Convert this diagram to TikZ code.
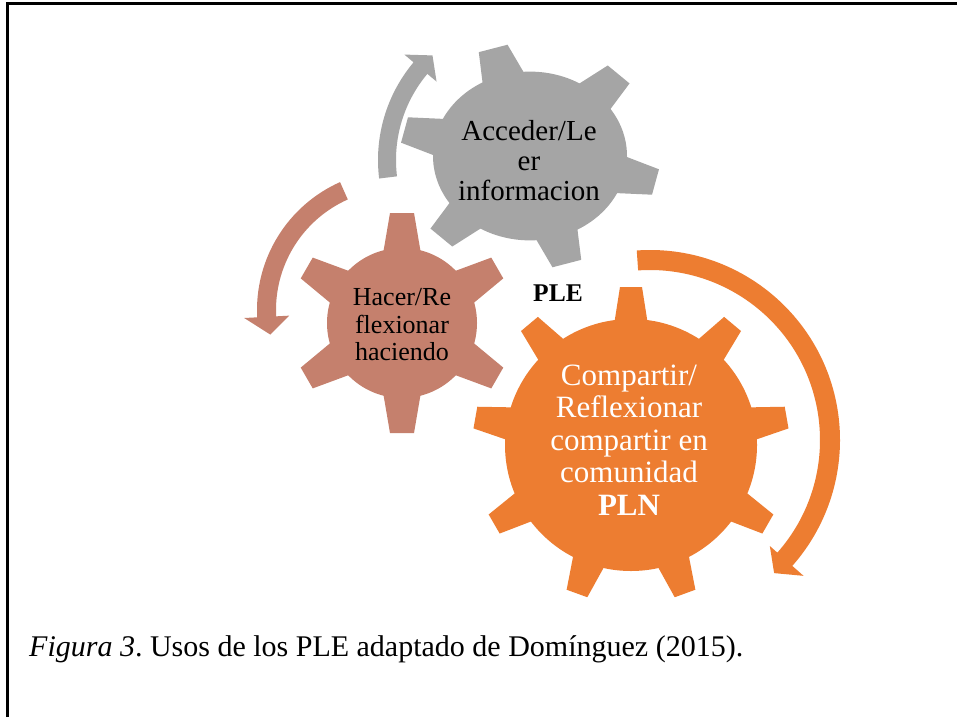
\documentclass[tikz,border=0pt]{standalone}
\usepackage{fontspec}
\setmainfont{Liberation Serif}
\frenchspacing
\definecolor{gearGray}{HTML}{A5A5A5}
\definecolor{gearRust}{HTML}{C5806D}
\definecolor{gearOrange}{HTML}{ED7D31}
% #1 cx, #2 cy, #3 teeth, #4 rotation, #5 body r, #6 tip R, #7 tip half width, #8 base half width, #9 colour
\newcommand\drawgear[9]{%
  \fill[#9] (#1,#2) circle (#5pt);
  \foreach \k in {1,...,#3}{%
    \pgfmathsetmacro\ang{#4+360*\k/#3}
    \fill[#9, shift={(#1,#2)}, rotate=\ang] (#5-6,-#8) -- (#6,-#7) -- (#6,#7) -- (#5-6,#8) -- cycle;
  }%
}
\tikzset{
  geartext/.style={align=center, inner sep=0pt},
}
\begin{document}
\begin{tikzpicture}[x=1pt,y=1pt]
\useasboundingbox (0,0) rectangle (957,-717);
\fill[white] (0,0) rectangle (957,-717);
% frame
\draw[line width=3pt] (7,-717) -- (7,-4) -- (957,-4);

% gears
\begin{scope}[shift={(530,-156)}, yscale=0.87]
\drawgear{0}{0}{6}{106.6}{97}{129}{15}{22}{gearGray}
\end{scope}
\drawgear{402}{-323}{6}{90}{75}{110}{12}{19}{gearRust}
\drawgear{631}{-445}{9}{90}{126}{158}{11}{17}{gearOrange}

% circular arrows
\fill[gearGray, shift={(530,-160)}] (187:152) arc[start angle=187, end angle=140, radius=152pt]
  -- (140:164) -- (133:143) -- (140:122) -- (140:134)
  arc[start angle=140, end angle=187, radius=134pt] -- cycle;
\fill[gearRust, shift={(397,-310)}] (114:140) arc[start angle=114, end angle=183, radius=140pt]
  -- (183:153) -- (191:129) -- (183:108) -- (183:121)
  arc[start angle=183, end angle=114, radius=121pt] -- cycle;
\fill[gearOrange, shift={(650,-440)}] (94:190) arc[start angle=94, end angle=-41.5, radius=190pt]
  -- (-41.5:205) -- (-47:182) -- (-41.5:160) -- (-41.5:170)
  arc[start angle=-41.5, end angle=94, radius=170pt] -- cycle;

% texts
\node[geartext, font=\fontsize{29}{30}\selectfont] (acc) at (529,-161) {Acceder/Le\\er\\informacion};
\node[geartext, font=\fontsize{26}{27.5}\selectfont] (hac) at (402,-325) {Hacer/Re\\flexionar\\haciendo};
\node[geartext, font=\fontsize{31}{32.5}\selectfont, text=white] (com) at (629,-440) {Compartir/\\Reflexionar\\compartir en\\comunidad\\\textbf{PLN}};
\node[geartext, font=\fontsize{25.5}{27}\selectfont\bfseries] (ple) at (558,-293.5) {PLE};

% caption
\node[anchor=base west, inner sep=0pt, font=\fontsize{30}{32}\selectfont] (cap) at (29,-656) {\textit{Figura 3}. Usos de los PLE adaptado de Domínguez (2015).};
\end{tikzpicture}
\end{document}
